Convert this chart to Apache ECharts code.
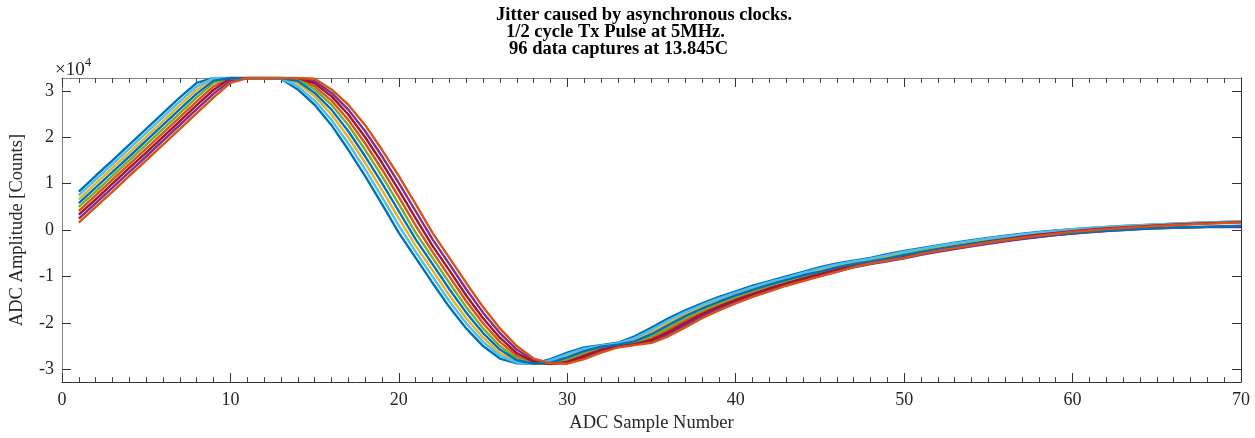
<!DOCTYPE html>
<html>
<head>
<meta charset="utf-8">
<script src="https://cdn.jsdelivr.net/npm/echarts@6/dist/echarts.min.js"></script>
<style>
html,body{margin:0;padding:0;background:#fff;}
#chart{width:1255px;height:438px;}
</style>
</head>
<body>
<div id="chart"></div>
<script>
// ADC sample numbers 1..70
const sampleNumbers = [1,2,3,4,5,6,7,8,9,10,11,12,13,14,15,16,17,18,19,20,21,22,23,24,25,26,27,28,29,30,31,32,33,34,35,36,37,38,39,40,41,42,43,44,45,46,47,48,49,50,51,52,53,54,55,56,57,58,59,60,61,62,63,64,65,66,67,68,69,70];

// Representative captures (ADC counts), earliest to latest
const captureA = [8300,11700,15000,18400,21800,25200,28600,31700,32767,32767,32767,32767,32600,30300,27000,22600,17300,11600,5600,-600,-6000,-11400,-16600,-21200,-25000,-27700,-28700,-28800,-27800,-26400,-25300,-24800,-24300,-22900,-21000,-19000,-17300,-15800,-14400,-13200,-12000,-11000,-10000,-9000,-8000,-7200,-6600,-6000,-5200,-4500,-3900,-3300,-2700,-2200,-1700,-1200,-800,-400,-100,200,450,680,880,1060,1230,1380,1520,1640,1750,1850];
const captureB = [7450,10850,14200,17550,20950,24350,27750,30950,32767,32767,32767,32767,32700,30950,27900,23750,18650,13050,7100,950,-4700,-10050,-15350,-20100,-24100,-27100,-28550,-28850,-28100,-26750,-25550,-24900,-24450,-23300,-21500,-19500,-17700,-16150,-14750,-13500,-12300,-11250,-10250,-9250,-8250,-7400,-6750,-6150,-5400,-4680,-4050,-3450,-2850,-2330,-1830,-1330,-900,-500,-180,120,390,620,830,1010,1190,1340,1480,1610,1720,1820];
const captureC = [6600,10000,13400,16700,20100,23500,26900,30200,32767,32767,32767,32767,32767,31600,28800,24900,20000,14500,8600,2500,-3400,-8700,-14100,-19000,-23200,-26500,-28400,-28900,-28400,-27100,-25800,-25000,-24600,-23700,-22000,-20000,-18100,-16500,-15100,-13800,-12600,-11500,-10500,-9500,-8500,-7600,-6900,-6300,-5600,-4850,-4200,-3600,-3000,-2450,-1950,-1450,-1000,-600,-250,50,330,570,780,970,1150,1310,1450,1580,1700,1800];
const captureD = [5800,9150,12550,15850,19250,22650,26050,29400,32200,32767,32767,32767,32767,32100,29550,25950,21300,15900,10100,4050,-2000,-7350,-12750,-17800,-22200,-25750,-28050,-28800,-28600,-27450,-26100,-25150,-24700,-24000,-22450,-20500,-18550,-16900,-15450,-14100,-12900,-11750,-10750,-9750,-8950,-8050,-7350,-6800,-6150,-5400,-4750,-4200,-3600,-3050,-2580,-2100,-1650,-1300,-950,-680,-400,-180,20,200,350,480,600,720,830,920];
const captureE = [5000,8300,11700,15000,18400,21800,25200,28600,31700,32767,32767,32767,32767,32600,30300,27000,22600,17300,11600,5600,-600,-6000,-11400,-16600,-21200,-25000,-27700,-28700,-28800,-27800,-26400,-25300,-24800,-24300,-22900,-21000,-19000,-17300,-15800,-14400,-13200,-12000,-11000,-10000,-9000,-8000,-7200,-6600,-6000,-5200,-4500,-3900,-3300,-2700,-2200,-1700,-1200,-800,-400,-100,200,450,680,880,1060,1230,1380,1520,1640,1750];
const captureF = [4150,7450,10850,14200,17550,20950,24350,27750,30950,32767,32767,32767,32767,32700,30950,27900,23750,18650,13050,7100,950,-4700,-10050,-15350,-20100,-24100,-27100,-28550,-28850,-28100,-26750,-25550,-24900,-24450,-23300,-21500,-19500,-17700,-16150,-14750,-13500,-12300,-11250,-10250,-9400,-8450,-7650,-7050,-6450,-5750,-5050,-4450,-3850,-3300,-2800,-2300,-1850,-1450,-1100,-780,-480,-220,20,230,380,500,600,680,750,800];
const captureG = [3300,6600,10000,13400,16700,20100,23500,26900,30200,32767,32767,32767,32767,32767,31600,28800,24900,20000,14500,8600,2500,-3400,-8700,-14100,-19000,-23200,-26500,-28400,-28900,-28400,-27100,-25800,-25000,-24600,-23700,-22000,-20000,-18100,-16500,-15100,-13800,-12600,-11500,-10500,-9500,-8500,-7600,-6900,-6300,-5600,-4850,-4200,-3600,-3000,-2450,-1950,-1450,-1000,-600,-250,50,330,570,780,970,1150,1310,1450,1580,1700];
const captureH = [2450,5800,9150,12550,15850,19250,22650,26050,29400,32200,32767,32767,32767,32767,32100,29550,25950,21300,15900,10100,4050,-2000,-7350,-12750,-17800,-22200,-25750,-28050,-28800,-28600,-27450,-26100,-25150,-24700,-24000,-22450,-20500,-18550,-16900,-15450,-14100,-12900,-11750,-10750,-9900,-8950,-8050,-7350,-6750,-6100,-5350,-4700,-4100,-3500,-2950,-2450,-1950,-1500,-1100,-750,-450,-150,80,280,420,520,580,620,640,650];
const captureI = [1600,5000,8300,11700,15000,18400,21800,25200,28600,31700,32767,32767,32767,32767,32600,30300,27000,22600,17300,11600,5600,-600,-6000,-11400,-16600,-21200,-25000,-27700,-28700,-28800,-27800,-26400,-25300,-24800,-24300,-22900,-21000,-19000,-17300,-15800,-14400,-13200,-12000,-11000,-10000,-9000,-8000,-7200,-6600,-6000,-5200,-4500,-3900,-3300,-2700,-2200,-1700,-1200,-800,-400,-100,200,450,680,880,1060,1230,1380,1520,1640];

const yTickValues = [-30000,-20000,-10000,0,10000,20000,30000];
const titleLines = ['Jitter caused by asynchronous clocks.', '1/2 cycle Tx Pulse at 5MHz.', '96 data captures at 13.845C'];
const xAxisName = 'ADC Sample Number';
const yAxisName = 'ADC Amplitude [Counts]';

const captures = [captureA, captureF, captureC, captureH, captureE, captureB, captureG, captureD, captureI];
const palette = ['#0072BD','#D95319','#EDB120','#7E2F8E','#77AC30','#4DBEEE','#A2142F'];

const FONT = "'Liberation Serif', 'Times New Roman', serif";
const chart = echarts.init(document.getElementById('chart'), null, {renderer: 'canvas'});

const series = captures.map((vals, i) => ({
  type: 'line',
  xAxisIndex: 0,
  yAxisIndex: 0,
  data: sampleNumbers.map((x, j) => [x, vals[j]]),
  symbol: 'none',
  lineStyle: {width: 2.4, color: palette[i % palette.length]},
  silent: true,
  animation: false
}));

const titleLeft = [496, 506, 509];
const titleTop = [6, 23, 40];

chart.setOption({
  animation: false,
  backgroundColor: '#ffffff',
  title: titleLines.map((t, i) => ({
    text: t, left: titleLeft[i], top: titleTop[i], padding: 0,
    textStyle: {fontFamily: FONT, fontWeight: 'bold', fontSize: 18.5, color: '#000', lineHeight: 18}
  })),
  grid: {left: 56, right: 14, top: 78, bottom: 47, containLabel: false},
  xAxis: [{
    type: 'value', min: 0, max: 70, interval: 10, position: 'bottom',
    name: xAxisName, nameLocation: 'middle', nameGap: 28,
    nameTextStyle: {fontFamily: FONT, fontSize: 18.5, color: '#262626'},
    axisLine: {show: true, onZero: false, lineStyle: {color: '#333', width: 1}},
    axisTick: {show: true, inside: true, length: 9, lineStyle: {color: '#333'}},
    minorTick: {show: true, splitNumber: 10, length: 5, lineStyle: {color: '#444'}},
    axisLabel: {fontFamily: FONT, fontSize: 18, color: '#262626', margin: 9},
    splitLine: {show: false}, minorSplitLine: {show: false}
  }, {
    type: 'value', min: 0, max: 70, interval: 10, position: 'top',
    axisLine: {show: true, onZero: false, lineStyle: {color: '#888', width: 1}},
    axisTick: {show: true, inside: true, length: 9, lineStyle: {color: '#333'}},
    minorTick: {show: true, splitNumber: 10, length: 5, lineStyle: {color: '#444'}},
    axisLabel: {show: false},
    splitLine: {show: false}
  }],
  yAxis: [{
    type: 'value', min: -32768, max: 32767, position: 'left',
    name: yAxisName, nameLocation: 'middle', nameGap: 35, nameRotate: 90,
    nameTextStyle: {fontFamily: FONT, fontSize: 18.5, color: '#262626'},
    axisLine: {show: true, onZero: false, lineStyle: {color: '#888', width: 1}},
    axisTick: {show: true, inside: true, length: 9, customValues: yTickValues, lineStyle: {color: '#333'}},
    axisLabel: {fontFamily: FONT, fontSize: 18, color: '#262626', margin: 8, customValues: yTickValues,
      formatter: v => String(Math.round(v / 10000))},
    splitLine: {show: false}
  }, {
    type: 'value', min: -32768, max: 32767, position: 'right',
    axisLine: {show: true, onZero: false, lineStyle: {color: '#333', width: 1}},
    axisTick: {show: true, inside: true, length: 9, customValues: yTickValues, lineStyle: {color: '#333'}},
    axisLabel: {show: false, customValues: yTickValues},
    splitLine: {show: false}
  }],
  graphic: [{
    type: 'text', left: 55, top: 56,
    style: {
      text: '{a|×10}{b|4}',
      rich: {
        a: {fontFamily: FONT, fontSize: 19, fill: '#262626', verticalAlign: 'bottom'},
        b: {fontFamily: FONT, fontSize: 13, fill: '#262626', verticalAlign: 'top', padding: [0,0,11,0]}
      }
    }
  }],
  series: series
});
</script>
</body>
</html>
